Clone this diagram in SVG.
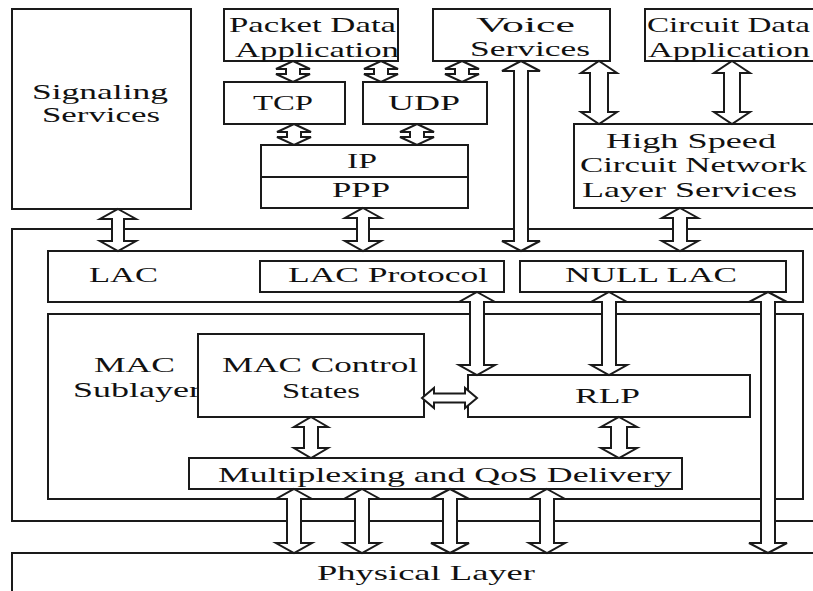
<svg xmlns="http://www.w3.org/2000/svg" width="813" height="591" viewBox="0 0 813 591">
  <style>
    .box { fill: #fff; stroke: #1a1a1a; stroke-width: 2; }
    .frame { fill: none; stroke: #1a1a1a; stroke-width: 2; }
    .arrow { fill: #fff; stroke: #1a1a1a; stroke-width: 2; stroke-linejoin: miter; }
    text { font-family: "Liberation Serif", "Times New Roman", serif; font-size: 22px; fill: #111; }
  </style>
  <rect x="0" y="0" width="813" height="591" fill="#fff"/>

  <!-- outer protocol stack frame (open to the right) -->
  <g id="stack-frame">
    <path class="frame" d="M 820 229 H 12 V 521 H 820"/>
  </g>

  <g id="signaling-services">
    <rect class="box" x="12" y="9" width="179" height="200"/>
    <text x="32" y="99" textLength="136" lengthAdjust="spacingAndGlyphs">Signaling</text>
    <text x="42" y="122" textLength="118" lengthAdjust="spacingAndGlyphs">Services</text>
  </g>

  <g id="packet-data-application">
    <rect class="box" x="224" y="9" width="174" height="52"/>
    <text x="229" y="32" textLength="167" lengthAdjust="spacingAndGlyphs">Packet Data</text>
    <text x="235" y="57" textLength="164" lengthAdjust="spacingAndGlyphs">Application</text>
    <line class="frame" x1="398" y1="9" x2="398" y2="61"/>
  </g>

  <g id="voice-services">
    <rect class="box" x="433" y="9" width="177" height="52"/>
    <text x="476" y="32" textLength="99" lengthAdjust="spacingAndGlyphs">Voice</text>
    <text x="470" y="56" textLength="120" lengthAdjust="spacingAndGlyphs">Services</text>
  </g>

  <g id="circuit-data-application">
    <rect class="box" x="645" y="9" width="180" height="52"/>
    <text x="647" y="32" textLength="163" lengthAdjust="spacingAndGlyphs">Circuit Data</text>
    <text x="648" y="57" textLength="162" lengthAdjust="spacingAndGlyphs">Application</text>
  </g>

  <g id="tcp">
    <rect class="box" x="224" y="82" width="121" height="42"/>
    <text x="253" y="110" textLength="60" lengthAdjust="spacingAndGlyphs">TCP</text>
  </g>

  <g id="udp">
    <rect class="box" x="363" y="82" width="124" height="42"/>
    <text x="388" y="110" textLength="72" lengthAdjust="spacingAndGlyphs">UDP</text>
  </g>

  <g id="ip-ppp">
    <rect class="box" x="261" y="145" width="207" height="63"/>
    <line class="frame" x1="261" y1="177" x2="468" y2="177"/>
    <text x="347" y="168" textLength="30" lengthAdjust="spacingAndGlyphs">IP</text>
    <text x="332" y="197" textLength="58" lengthAdjust="spacingAndGlyphs">PPP</text>
  </g>

  <g id="high-speed-circuit">
    <rect class="box" x="574" y="124" width="250" height="84"/>
    <text x="606" y="148" textLength="170" lengthAdjust="spacingAndGlyphs">High Speed</text>
    <text x="580" y="172" textLength="227" lengthAdjust="spacingAndGlyphs">Circuit Network</text>
    <text x="582" y="197" textLength="215" lengthAdjust="spacingAndGlyphs">Layer Services</text>
  </g>

  <g id="lac">
    <rect class="box" x="48" y="251" width="755" height="51"/>
    <text x="89" y="282" textLength="69" lengthAdjust="spacingAndGlyphs">LAC</text>
  </g>

  <g id="lac-protocol">
    <rect class="box" x="260" y="261" width="244" height="31"/>
    <text x="288" y="282" textLength="200" lengthAdjust="spacingAndGlyphs">LAC Protocol</text>
  </g>

  <g id="null-lac">
    <rect class="box" x="520" y="261" width="266" height="31"/>
    <text x="565" y="282" textLength="172" lengthAdjust="spacingAndGlyphs">NULL LAC</text>
  </g>

  <g id="mac-sublayer">
    <rect class="box" x="48" y="314" width="755" height="185"/>
    <text x="94" y="372" textLength="81" lengthAdjust="spacingAndGlyphs">MAC</text>
    <text x="73" y="397" textLength="128" lengthAdjust="spacingAndGlyphs">Sublayer</text>
  </g>

  <g id="mac-control-states">
    <rect class="box" x="198" y="334" width="226" height="83"/>
    <text x="222" y="372" textLength="196" lengthAdjust="spacingAndGlyphs">MAC Control</text>
    <text x="282" y="398" textLength="78" lengthAdjust="spacingAndGlyphs">States</text>
  </g>

  <g id="rlp">
    <rect class="box" x="468" y="375" width="282" height="42"/>
    <text x="575" y="403" textLength="65" lengthAdjust="spacingAndGlyphs">RLP</text>
  </g>

  <g id="multiplexing-qos">
    <rect class="box" x="189" y="458" width="493" height="31"/>
    <text x="218" y="482" textLength="454" lengthAdjust="spacingAndGlyphs">Multiplexing and QoS Delivery</text>
  </g>

  <g id="physical-layer">
    <rect class="box" x="12" y="553" width="815" height="50"/>
    <text x="317" y="580" textLength="218" lengthAdjust="spacingAndGlyphs">Physical Layer</text>
  </g>

  <!-- hollow double-headed block arrows -->
  <g id="connectors">
    <!-- small arrows between application / transport / IP -->
    <path class="arrow" d="M293 61 L310 69 L300 69 L300 74 L310 74 L293 82 L276 74 L286 74 L286 69 L276 69 Z"/>
    <path class="arrow" d="M381 61 L398 69 L388 69 L388 74 L398 74 L381 82 L364 74 L374 74 L374 69 L364 69 Z"/>
    <path class="arrow" d="M462 61 L479 69 L469 69 L469 74 L479 74 L462 82 L445 74 L455 74 L455 69 L445 69 Z"/>
    <path class="arrow" d="M294 124 L311 132 L301 132 L301 137 L311 137 L294 145 L277 137 L287 137 L287 132 L277 132 Z"/>
    <path class="arrow" d="M417 124 L434 132 L424 132 L424 137 L434 137 L417 145 L400 137 L410 137 L410 132 L400 132 Z"/>

    <!-- Signaling Services <-> LAC -->
    <path class="arrow" d="M118 209 L136 219 L124 219 L124 241 L136 241 L118 251 L100 241 L112 241 L112 219 L100 219 Z"/>
    <!-- IP/PPP <-> LAC Protocol -->
    <path class="arrow" d="M363 208 L381 218 L369 218 L369 241 L381 241 L363 251 L345 241 L357 241 L357 218 L345 218 Z"/>
    <!-- Voice Services <-> LAC -->
    <path class="arrow" d="M521 61 L540 71 L528 71 L528 241 L540 241 L521 251 L502 241 L514 241 L514 71 L502 71 Z"/>
    <!-- Voice Services <-> High Speed Circuit -->
    <path class="arrow" d="M599 61 L617 73 L608 73 L608 112 L617 112 L599 124 L581 112 L590 112 L590 73 L581 73 Z"/>
    <!-- Circuit Data Application <-> High Speed Circuit -->
    <path class="arrow" d="M732 61 L750 73 L740 73 L740 112 L750 112 L732 124 L714 112 L724 112 L724 73 L714 73 Z"/>
    <!-- High Speed Circuit <-> NULL LAC -->
    <path class="arrow" d="M680 208 L698 218 L687 218 L687 241 L698 241 L680 251 L662 241 L673 241 L673 218 L662 218 Z"/>

    <!-- LAC Protocol <-> RLP -->
    <path class="arrow" d="M477 292 L495 302 L484 302 L484 365 L495 365 L477 375 L459 365 L470 365 L470 302 L459 302 Z"/>
    <!-- NULL LAC <-> RLP -->
    <path class="arrow" d="M609 292 L627 302 L616 302 L616 365 L627 365 L609 375 L591 365 L602 365 L602 302 L591 302 Z"/>
    <!-- NULL LAC <-> Physical Layer -->
    <path class="arrow" d="M768 292 L787 302 L775 302 L775 543 L787 543 L768 553 L749 543 L761 543 L761 302 L749 302 Z"/>

    <!-- MAC Control States <-> RLP -->
    <path class="arrow" d="M422 398 L434 388 L434 393.5 L465 393.5 L465 388 L477 398 L465 408 L465 402.5 L434 402.5 L434 408 Z"/>

    <!-- MAC Control States <-> Multiplexing -->
    <path class="arrow" d="M311 417 L328 427 L318 427 L318 448 L328 448 L311 458 L294 448 L304 448 L304 427 L294 427 Z"/>
    <!-- RLP <-> Multiplexing -->
    <path class="arrow" d="M619 417 L637 427 L627 427 L627 448 L637 448 L619 458 L601 448 L611 448 L611 427 L601 427 Z"/>

    <!-- Multiplexing <-> Physical Layer -->
    <path class="arrow" d="M294 489 L312 499 L301 499 L301 543 L312 543 L294 553 L276 543 L287 543 L287 499 L276 499 Z"/>
    <path class="arrow" d="M362 489 L380 499 L369 499 L369 543 L380 543 L362 553 L344 543 L355 543 L355 499 L344 499 Z"/>
    <path class="arrow" d="M450 489 L469 499 L457 499 L457 543 L469 543 L450 553 L431 543 L443 543 L443 499 L431 499 Z"/>
    <path class="arrow" d="M547 489 L565 499 L554 499 L554 543 L565 543 L547 553 L529 543 L540 543 L540 499 L529 499 Z"/>
  </g>
</svg>
